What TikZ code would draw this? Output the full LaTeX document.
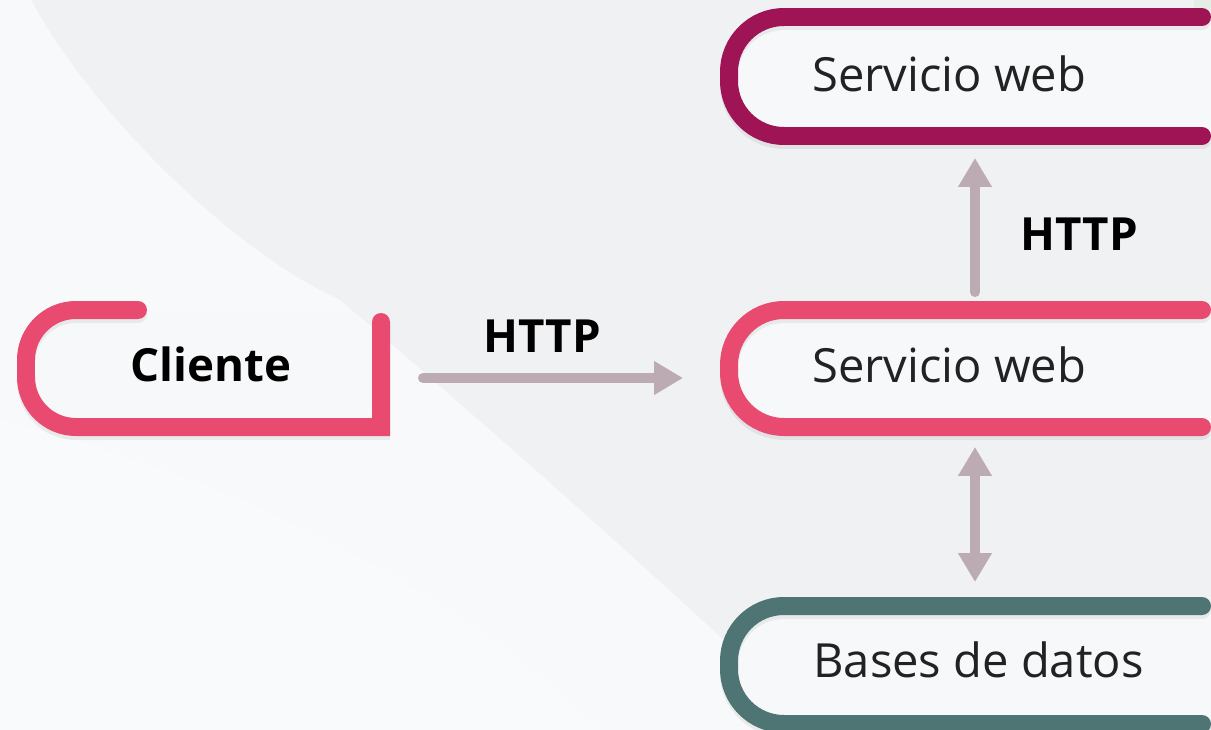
\documentclass[tikz,border=0pt]{standalone}
\usepackage{fontspec}
\setmainfont{Open Sans}
\usetikzlibrary{arrows.meta}
\definecolor{bgbase}{HTML}{F0F1F3}
\definecolor{bglight}{HTML}{F8F9FA}
\definecolor{boxfill}{HTML}{F7F8F9}
\definecolor{wine}{HTML}{9E1454}
\definecolor{rose}{HTML}{E94B70}
\definecolor{teal}{HTML}{4E7573}
\definecolor{arrowgray}{HTML}{BCABB2}
\definecolor{txt}{HTML}{222222}
\definecolor{mint}{HTML}{E4EEE7}
\tikzset{
  frame/.style={line width=0.36cm, line cap=round},
  shade/.style={line width=0.36cm, line cap=round, draw=black, draw opacity=0.06},
  label/.style={anchor=base west, inner sep=0pt, font=\fontsize{26.8}{30}\selectfont, text=txt},
  proto/.style={anchor=base west, inner sep=0pt, font=\fontsize{26}{30}\selectfont\bfseries, text=black},
  arr/.style={draw=arrowgray, line width=0.2cm, line cap=round,
    -{Triangle[length=0.58cm, width=0.64cm]}},
  arrboth/.style={draw=arrowgray, line width=0.2cm,
    {Triangle[length=0.58cm, width=0.64cm]}-{Triangle[length=0.58cm, width=0.64cm]}}
}
\begin{document}
\begin{tikzpicture}[x=0.02cm, y=-0.02cm]
\useasboundingbox (0,0) rectangle (1211,730);
\clip (0,0) rectangle (1211,730);

% background with a light sweep on the left
\fill[bgbase] (0,0) rectangle (1211,730);
\fill[bglight] (0,0) -- (31,0) .. controls (90,110) and (230,250) .. (340,300)
  .. controls (480,420) and (640,560) .. (820,730) -- (0,730) -- cycle;
\fill[white, opacity=0.2] (0,420) .. controls (200,470) and (420,560) .. (600,730) -- (0,730) -- cycle;
\fill[mint] (1194,0) rectangle (1211,30);
\fill[mint] (1196,96) rectangle (1211,132);

% Cliente frame
\fill[boxfill, rounded corners=1cm] (381,310) -- (26,310) -- (26,427) -- (381,427) -- cycle;
\draw[shade] (138,314) [rounded corners=1cm] -- (26,314) -- (26,431) -- (200,431) [sharp corners] -- (381,431) -- (381,326);
\draw[frame, draw=rose, line join=miter] (138,310) [rounded corners=1cm] -- (26,310) -- (26,427) -- (200,427) [sharp corners] -- (381,427) -- (381,322);

% right-hand frames
\foreach \t/\b/\c in {17/136/wine, 310/427/rose, 606/724/teal}{
  \fill[boxfill, rounded corners=1.1cm] (1215,\t) -- (729,\t) -- (729,\b) -- (1215,\b);
  \draw[shade, rounded corners=1.1cm] (1202,\t+4) -- (729,\t+4) -- (729,\b+4) -- (1202,\b+4);
  \draw[frame, draw=\c, rounded corners=1.1cm] (1202,\t) -- (729,\t) -- (729,\b) -- (1202,\b);
}

% labels
\node[proto] (cli) at (130,381) {Cliente};
\node[label] (ws1) at (812,91) {Servicio web};
\node[label] (ws2) at (812,382) {Servicio web};
\node[label] (db) at (813,677) {Bases de datos};
\node[proto] (h1) at (483,352) {HTTP};
\node[proto] (h2) at (1020,250) {HTTP};

% connectors
\coordinate (cliOut) at (423,378);
\coordinate (ws2In) at (683,378);
\coordinate (ws2Top) at (975,292);
\coordinate (ws1Bot) at (975,158);
\coordinate (ws2Bot) at (975,447);
\coordinate (dbTop) at (975,582);
\draw[arr] (cliOut) -- (ws2In);
\draw[arr] (ws2Top) -- (ws1Bot);
\draw[arrboth] (ws2Bot) -- (dbTop);
\end{tikzpicture}
\end{document}
